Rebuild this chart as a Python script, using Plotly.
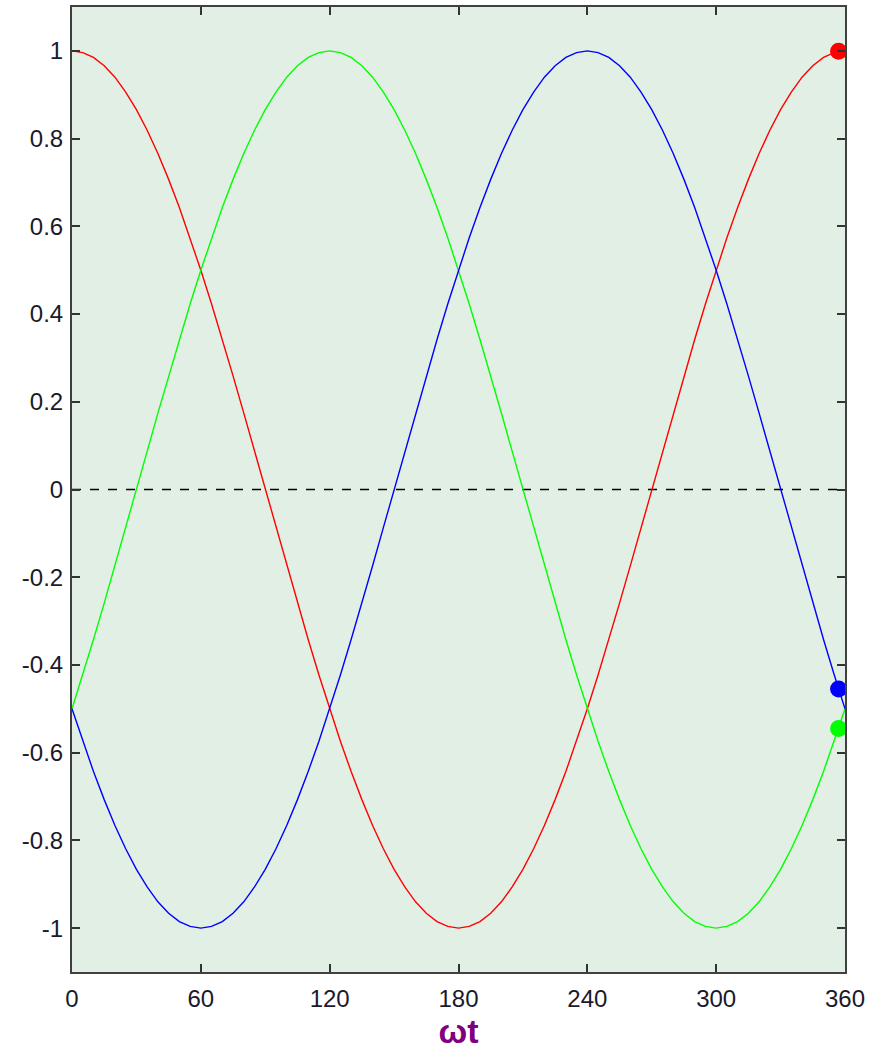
import plotly.graph_objects as go

angles = list(range(0, 361, 5))

phase_a = [1.000, 0.996, 0.985, 0.966, 0.940, 0.906, 0.866, 0.819, 0.766, 0.707, 0.643, 0.574,
           0.500, 0.423, 0.342, 0.259, 0.174, 0.087, 0.000, -0.087, -0.174, -0.259, -0.342, -0.423,
           -0.500, -0.574, -0.643, -0.707, -0.766, -0.819, -0.866, -0.906, -0.940, -0.966, -0.985, -0.996,
           -1.000, -0.996, -0.985, -0.966, -0.940, -0.906, -0.866, -0.819, -0.766, -0.707, -0.643, -0.574,
           -0.500, -0.423, -0.342, -0.259, -0.174, -0.087, 0.000, 0.087, 0.174, 0.259, 0.342, 0.423,
           0.500, 0.574, 0.643, 0.707, 0.766, 0.819, 0.866, 0.906, 0.940, 0.966, 0.985, 0.996, 1.000]

phase_b = [-0.500, -0.423, -0.342, -0.259, -0.174, -0.087, 0.000, 0.087, 0.174, 0.259, 0.342, 0.423,
           0.500, 0.574, 0.643, 0.707, 0.766, 0.819, 0.866, 0.906, 0.940, 0.966, 0.985, 0.996,
           1.000, 0.996, 0.985, 0.966, 0.940, 0.906, 0.866, 0.819, 0.766, 0.707, 0.643, 0.574,
           0.500, 0.423, 0.342, 0.259, 0.174, 0.087, 0.000, -0.087, -0.174, -0.259, -0.342, -0.423,
           -0.500, -0.574, -0.643, -0.707, -0.766, -0.819, -0.866, -0.906, -0.940, -0.966, -0.985, -0.996,
           -1.000, -0.996, -0.985, -0.966, -0.940, -0.906, -0.866, -0.819, -0.766, -0.707, -0.643, -0.574, -0.500]

phase_c = [-0.500, -0.574, -0.643, -0.707, -0.766, -0.819, -0.866, -0.906, -0.940, -0.966, -0.985, -0.996,
           -1.000, -0.996, -0.985, -0.966, -0.940, -0.906, -0.866, -0.819, -0.766, -0.707, -0.643, -0.574,
           -0.500, -0.423, -0.342, -0.259, -0.174, -0.087, 0.000, 0.087, 0.174, 0.259, 0.342, 0.423,
           0.500, 0.574, 0.643, 0.707, 0.766, 0.819, 0.866, 0.906, 0.940, 0.966, 0.985, 0.996,
           1.000, 0.996, 0.985, 0.966, 0.940, 0.906, 0.866, 0.819, 0.766, 0.707, 0.643, 0.574,
           0.500, 0.423, 0.342, 0.259, 0.174, 0.087, 0.000, -0.087, -0.174, -0.259, -0.342, -0.423, -0.500]

marker_angle = 357
marker_a = 0.999
marker_b = -0.545
marker_c = -0.455

x_ticks = [0, 60, 120, 180, 240, 300, 360]
y_ticks = [-1, -0.8, -0.6, -0.4, -0.2, 0, 0.2, 0.4, 0.6, 0.8, 1]
y_tick_text = ["-1", "-0.8", "-0.6", "-0.4", "-0.2", "0", "0.2", "0.4", "0.6", "0.8", "1"]

fig = go.Figure()

fig.add_trace(go.Scatter(x=[0, 360], y=[0, 0], mode="lines",
                         line=dict(color="black", width=1.3, dash="dash"), hoverinfo="skip"))
fig.add_trace(go.Scatter(x=angles, y=phase_a, mode="lines", line=dict(color="#FF0000", width=1.4)))
fig.add_trace(go.Scatter(x=angles, y=phase_b, mode="lines", line=dict(color="#00FF00", width=1.4)))
fig.add_trace(go.Scatter(x=angles, y=phase_c, mode="lines", line=dict(color="#0000FF", width=1.4)))

fig.add_trace(go.Scatter(x=[marker_angle], y=[marker_a], mode="markers",
                         marker=dict(color="#FF0000", size=17)))
fig.add_trace(go.Scatter(x=[marker_angle], y=[marker_b], mode="markers",
                         marker=dict(color="#00FF00", size=17)))
fig.add_trace(go.Scatter(x=[marker_angle], y=[marker_c], mode="markers",
                         marker=dict(color="#0000FF", size=17)))

axis_common = dict(
    showgrid=False, zeroline=False, showline=True, linecolor="#404040", linewidth=2,
    mirror="allticks", ticks="inside", ticklen=8, tickwidth=1.5, tickcolor="#333333",
    tickfont=dict(family="Liberation Sans, Arial, sans-serif", size=24, color="#1a1a2a"),
)

fig.update_xaxes(range=[0, 360], tickvals=x_ticks, ticktext=[str(v) for v in x_ticks],
                 ticklabelstandoff=4,
                 title=dict(text="<b>ωt</b>", font=dict(family="Liberation Sans, Arial, sans-serif",
                                                      size=34, color="#800080"), standoff=4),
                 **axis_common)
fig.update_yaxes(range=[-1.1, 1.1], tickvals=y_ticks, ticktext=y_tick_text,
                 ticklabelstandoff=2, **axis_common)

fig.update_layout(
    width=874, height=1056,
    margin=dict(l=72, r=29, t=5, b=84),
    plot_bgcolor="#E2EFE4", paper_bgcolor="white",
    showlegend=False,
)

fig.write_html("out.html")
